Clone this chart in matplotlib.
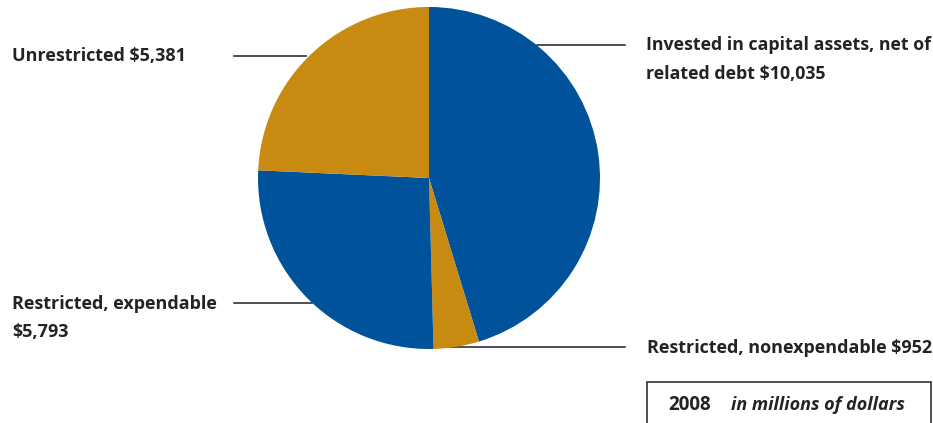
import matplotlib.pyplot as plt
from matplotlib.patches import Rectangle

# ── Data ──────────────────────────────────────────────────────────────────────
categories = ["Invested in capital assets, net of\nrelated debt $10,035",
              "Restricted, nonexpendable $952",
              "Restricted, expendable\n$5,793",
              "Unrestricted $5,381"]
values = [10035, 952, 5793, 5381]
colors = ["#00529b", "#c98a12", "#00529b", "#c98a12"]
year = "2008"
unit = "in millions of dollars"

TXT = "#262223"
W, H = 933, 423

plt.rcParams['font.family'] = ['Open Sans', 'DejaVu Sans']

fig = plt.figure(figsize=(W / 100, H / 100), dpi=100)
ax = fig.add_axes([0, 0, 1, 1])

def py(y):
    # pixel y from top -> data y
    return H - y

cx, cy, r = 429, py(178), 171
ax.pie(values, colors=colors, startangle=90, counterclock=False,
       center=(cx, cy), radius=r, frame=True,
       wedgeprops=dict(linewidth=0, zorder=3))

# leader lines (pixel coordinates)
leaders = [(537, 625, 45), (435, 625, 347), (234, 312, 303), (234, 306, 56)]
for x0, x1, y in leaders:
    ax.plot([x0, x1], [py(y), py(y)], color="#231f20", lw=1.1, zorder=1)

fs = 13
ax.text(646, py(36), categories[0], fontsize=fs - 0.2, fontweight='bold',
        color=TXT, ha='left', va='top', linespacing=1.75)
ax.text(647, py(348), categories[1], fontsize=fs, fontweight='bold',
        color=TXT, ha='left', va='center')
ax.text(12, py(295), categories[2], fontsize=fs, fontweight='bold',
        color=TXT, ha='left', va='top', linespacing=1.7)
ax.text(12, py(56), categories[3], fontsize=fs, fontweight='bold',
        color=TXT, ha='left', va='center')

# caption box, open at the bottom edge
ax.add_patch(Rectangle((647, py(440)), 284, 58, fill=False,
                       edgecolor="#231f20", lw=1.1, zorder=2))
ax.text(668, py(405), year, fontsize=fs + 0.5, fontweight='bold',
        color=TXT, ha='left', va='center')
ax.text(731, py(405), unit, fontsize=fs, fontweight='bold', style='italic',
        color=TXT, ha='left', va='center')

ax.set_xlim(0, W)
ax.set_ylim(0, H)
ax.set_aspect('equal')
ax.axis('off')

fig.savefig("out.png", dpi=100)
